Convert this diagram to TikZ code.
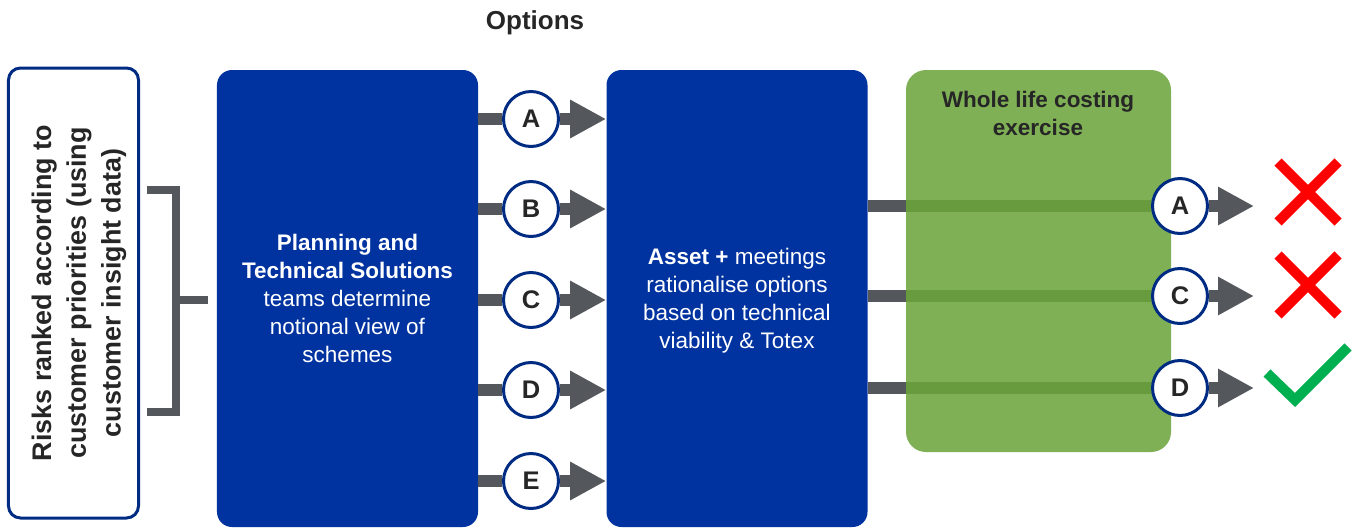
\documentclass[tikz,border=0pt]{standalone}
\usepackage{fontspec}
\setmainfont{Liberation Sans}
\usetikzlibrary{arrows.meta,positioning}

\definecolor{navy}{HTML}{002B82}
\definecolor{teamblue}{HTML}{0033A0}
\definecolor{shaftgrey}{HTML}{54575C}
\definecolor{wlgreen}{HTML}{7FB055}
\definecolor{wldark}{HTML}{679B3E}
\definecolor{okgreen}{HTML}{00B050}
\definecolor{ink}{HTML}{262626}

\def\bodyfont{\fontsize{12.8}{15.9}\selectfont}
\def\optx{531}
\def\keepx{1180}

\tikzset{
  team/.style={fill=teamblue, rounded corners=3mm, minimum width=52.2mm,
    minimum height=91.4mm, inner sep=0pt, text=white, align=center, font=\bodyfont},
  opt/.style={circle, draw=navy, line width=0.6mm, fill=white, minimum size=11mm,
    inner sep=0pt, text=ink, font=\fontsize{14.5}{16}\selectfont\bfseries},
  shaftline/.style={shaftgrey, line width=2.5mm},
  optarrow/.style={shaftline, -{Triangle[length=7.2mm,width=7.2mm]}},
  cross/.style={red, line width=2mm},
}

\begin{document}
\begin{tikzpicture}[x=0.2mm, y=-0.2mm]
\useasboundingbox (0,0) rectangle (1362,527);
% Risks box and bracket
\node[draw=navy, line width=0.6mm, rounded corners=2.4mm, minimum width=26mm,
  minimum height=90mm, inner sep=0pt] (risks) at (73.5,293) {};
\node[rotate=90, align=center, text=ink, font=\fontsize{15.3}{19.8}\selectfont\bfseries]
  (riskstext) at (79,293) {Risks ranked according to\\customer priorities (using\\customer insight data)};
\draw[shaftgrey, line width=1.6mm] (147,190) -- (176,190) -- (176,412) -- (147,412);
\draw[shaftgrey, line width=1.6mm] (176,300) -- (208,300);
% Teams
\node[team] (plan) at (347.5,298.5)
  {\textbf{Planning and}\\\textbf{Technical Solutions}\\teams determine\\notional view of\\schemes};
\node[team] (asset) at (737,298.5) {};
\node[align=center, text=white, font=\bodyfont] (assettext) at (737,301)
  {\textbf{Asset +} meetings\\rationalise options\\based on technical\\viability \& Totex};
\node[font=\fontsize{14.8}{17}\selectfont\bfseries, text=ink] (optitle) at (535,23) {Options};
% Options A to E
\foreach \l/\y in {A/119,B/209,C/300,D/390,E/481} {
  \node[opt] (o\l) at (\optx,\y) {\l};
  \draw[shaftline] (plan.east |- o\l) -- (o\l.west);
  \draw[optarrow] (o\l.east) -- (asset.west |- o\l);
}
% Whole life costing
\node[fill=wlgreen, rounded corners=4mm, minimum width=53mm, minimum height=76.4mm,
  inner sep=0pt] (wlc) at (1038.5,261) {};
\node[align=center, text=ink, font=\bodyfont\bfseries] (wlctitle) at (1038,113)
  {Whole life costing\\exercise};
\foreach \l/\y in {A/206,C/296,D/388} {
  \node[opt] (k\l) at (\keepx,\y) {\l};
  \coordinate (tip\l) at (1254,\y);
  \draw[shaftline] (asset.east |- k\l) -- (wlc.west |- k\l);
  \draw[shaftline, wldark] (wlc.west |- k\l) -- (k\l.west);
  \draw[optarrow] (k\l.east) -- (tip\l);
}
% Outcomes
\foreach \y in {192,285} {
  \draw[cross] (1278,\y-30) -- (1338,\y+30);
  \draw[cross] (1278,\y+30) -- (1338,\y-30);
}
\draw[okgreen, line width=2mm] (1267,373) -- (1295,400) -- (1348,347);
\end{tikzpicture}
\end{document}
